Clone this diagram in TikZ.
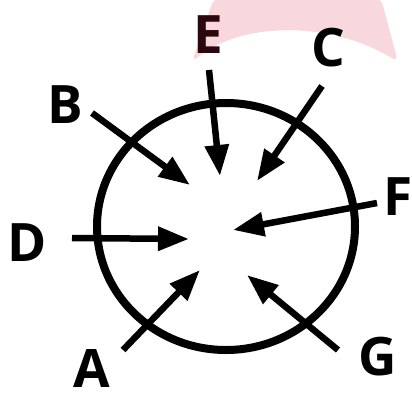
\documentclass[tikz,border=0pt]{standalone}
\usepackage{fontspec}
\setmainfont{Open Sans}
\usepackage{tikz}
\usetikzlibrary{arrows.meta}
\definecolor{BlobPink}{RGB}{248,216,221}
\definecolor{DarkMaroon}{RGB}{42,8,14}

\begin{document}
\begin{tikzpicture}[x=1pt,y=-1pt,>={Triangle[length=31pt,width=23pt]},every node/.style={font=\fontsize{53}{53}\selectfont\bfseries,inner sep=0pt}]
\tikzset{ray/.style={->,line width=6.5pt},letter/.style={anchor=center}}
\useasboundingbox (0,0) rectangle (412,394);
% pink blob behind the top labels
\fill[BlobPink,rounded corners=7pt] (214,-2) -- (192,62) .. controls (240,22) and (330,20) .. (398,62) -- (381,-2) -- cycle;
% ring
\draw[line width=8pt] (226,226.5) ellipse [x radius=129,y radius=123.5];
% labels
\node[letter,text=DarkMaroon] (E) at (208,35) {E};
\node[letter] (C) at (328,48) {C};
\node[letter] (B) at (65,105) {B};
\node[letter] (D) at (27,243) {D};
\node[letter] (F) at (398,197) {F};
\node[letter] (A) at (92,368) {A};
\node[letter] (G) at (378,357) {G};
% arrow ends
\coordinate (Es) at (209,70);  \coordinate (Et) at (220,176);
\coordinate (Cs) at (322,86);  \coordinate (Ct) at (257,181);
\coordinate (Bs) at (92,113);  \coordinate (Bt) at (190,185);
\coordinate (Ds) at (72,238);  \coordinate (Dt) at (189,239);
\coordinate (Fs) at (377,203); \coordinate (Ft) at (233,230);
\coordinate (As) at (123,350); \coordinate (At) at (200,270);
\coordinate (Gs) at (338,350); \coordinate (Gt) at (247,275);
\draw[ray] (Es)--(Et);
\draw[ray] (Cs)--(Ct);
\draw[ray] (Bs)--(Bt);
\draw[ray] (Ds)--(Dt);
\draw[ray] (Fs)--(Ft);
\draw[ray] (As)--(At);
\draw[ray] (Gs)--(Gt);
\end{tikzpicture}
\end{document}
